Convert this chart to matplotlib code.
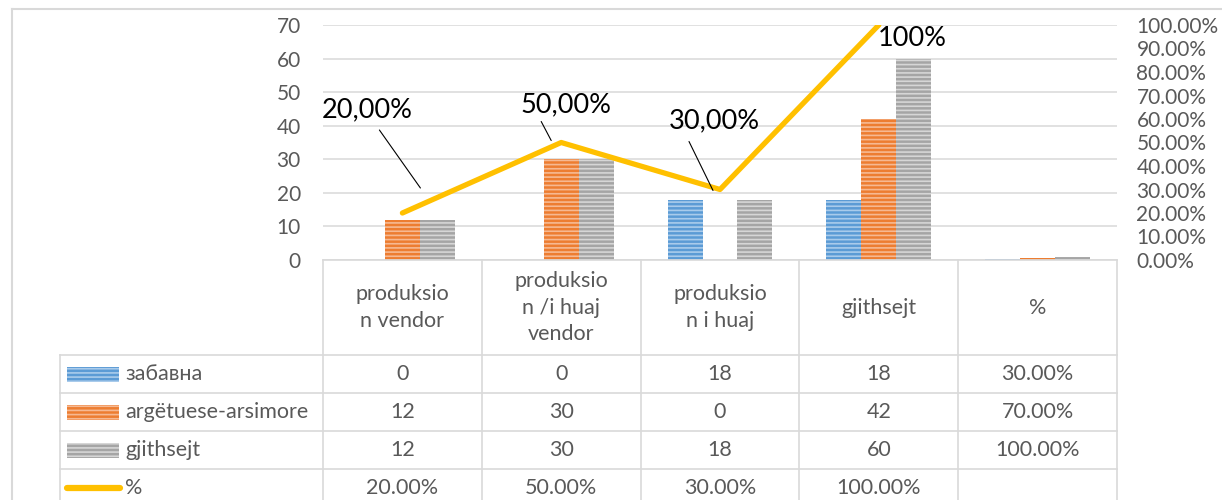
import numpy as np
import matplotlib
matplotlib.use("Agg")
import matplotlib.pyplot as plt
from matplotlib.patches import Rectangle
from matplotlib.ticker import FuncFormatter
from matplotlib.transforms import offset_copy

plt.rcParams['font.family'] = ['Lato', 'DejaVu Sans']
plt.rcParams['hatch.linewidth'] = 1.2

categories = ['produksio\nn vendor', 'produksio\nn /i huaj\nvendor',
              'produksio\nn i huaj', 'gjithsejt', '%']
series_names = ['забавна', 'argëtuese-arsimore', 'gjithsejt']
zabavna = [0, 0, 18, 18, 0.3]
argetuese = [12, 30, 0, 42, 0.7]
gjithsejt = [12, 30, 18, 60, 1.0]
pct_name = '%'
pct = [0.20, 0.50, 0.30, 1.00]
pct_labels = ['20,00%', '50,00%', '30,00%', '100%']
left_ticks = list(range(0, 80, 10))
right_ticks = [i / 10 for i in range(11)]

colors = ['#5b9bd5', '#ed7d31', '#a5a5a5']
stripes = ['#a9cbeb', '#f6b992', '#d6d6d6']
grid_c = '#d9d9d9'
text_c = '#595959'
line_c = '#ffc000'
fs = 15.5

W, H = 1222, 500
fig = plt.figure(figsize=(W / 100, H / 100), dpi=100)


def box(l, t, r, b):
    return [l / W, 1 - b / H, (r - l) / W, (b - t) / H]


ax = fig.add_axes(box(323, 25, 1117, 260))
x = np.arange(len(categories))
bw = 0.22
for k, vals in enumerate([zabavna, argetuese, gjithsejt]):
    ax.bar(x + (k - 1) * bw, vals, bw, color=colors[k], edgecolor=stripes[k],
           hatch='----', linewidth=0, zorder=2)
ax.set_xlim(-0.5, len(categories) - 0.5)
ax.set_ylim(0, 70)
ax.set_yticks(left_ticks)
ax.set_xticks([])
ax.grid(axis='y', color=grid_c, lw=1.1, zorder=0)
for sp in ax.spines.values():
    sp.set_visible(False)
ax.tick_params(axis='y', length=0, pad=16, labelsize=15, labelcolor=text_c)

ax2 = ax.twinx()
ax2.set_ylim(0, 1)
ax2.set_yticks(right_ticks)
ax2.yaxis.set_major_formatter(FuncFormatter(lambda v, p: f"{v * 100:.2f}%"))
for sp in ax2.spines.values():
    sp.set_visible(False)
ax2.tick_params(axis='y', length=0, pad=14, labelsize=15, labelcolor=text_c)
ax2.plot(x[:len(pct)], pct, color=line_c, lw=3.8, solid_capstyle='round', zorder=3)

# data labels (pixel offsets from the point) and leader lines
label_off = [(-35, 103), (5, 38), (-6, 69), (33, -13)]
leaders = [((-23, 83), (18, 25)), ((-20, 21), (-10, 2)), ((-31, 48), (-7, -1)), None]
for i, (p, lab) in enumerate(zip(pct, pct_labels)):
    dx, dy = label_off[i]
    ax2.annotate(lab, (x[i], p), xytext=(dx, dy), textcoords='offset pixels',
                 ha='center', va='center', fontsize=19.5, color='black',
                 annotation_clip=False)
    if leaders[i]:
        (sx, sy), (ex, ey) = leaders[i]
        ax2.annotate('', xy=(x[i], p),
                     xycoords=offset_copy(ax2.transData, fig=fig, x=ex, y=ey, units='dots'),
                     xytext=(x[i], p),
                     textcoords=offset_copy(ax2.transData, fig=fig, x=sx, y=sy, units='dots'),
                     arrowprops=dict(arrowstyle='-', color='black', lw=0.8,
                                     shrinkA=0, shrinkB=0),
                     annotation_clip=False)

# data table drawn in pixel space
tab = fig.add_axes([0, 0, 1, 1], zorder=5)
tab.set_xlim(0, W)
tab.set_ylim(H, 0)
tab.axis('off')
tab.patch.set_alpha(0)

edges = [ax.transData.transform((i - 0.5, 0))[0] for i in range(len(categories) + 1)]
x_left = 60
head_top, head_bot = 260, 355
row_h = 38
n_rows = 4
row_y = [head_bot + r * row_h for r in range(n_rows + 1)]

lw = 1.2
tab.plot([edges[0], edges[-1]], [head_top, head_top], color=grid_c, lw=lw)
for yy in row_y:
    tab.plot([x_left, edges[-1]], [yy, yy], color=grid_c, lw=lw)
tab.plot([x_left, x_left], [head_bot, H], color=grid_c, lw=lw)
for ex in edges:
    tab.plot([ex, ex], [head_top, H], color=grid_c, lw=lw)

# outer chart border
tab.plot([12, W], [9, 9], color=grid_c, lw=1.5)
tab.plot([12, 12], [9, H], color=grid_c, lw=1.5)

centers = [(edges[j] + edges[j + 1]) / 2 for j in range(len(categories))]
for j, cat in enumerate(categories):
    tab.text(centers[j], (head_top + head_bot) / 2, cat, ha='center', va='center',
             fontsize=fs, color=text_c, linespacing=1.4)


def fmt(v, j):
    return f"{v * 100:.2f}%" if j == len(categories) - 1 else f"{v:g}"


rows = [zabavna, argetuese, gjithsejt]
for r, vals in enumerate(rows):
    yc = row_y[r] + row_h / 2
    tab.add_patch(Rectangle((67, yc - 7.5), 52, 15, facecolor=colors[r],
                            edgecolor=stripes[r], hatch='----', lw=0))
    tab.text(125, yc, series_names[r], ha='left', va='center', fontsize=fs, color=text_c)
    for j, v in enumerate(vals):
        tab.text(centers[j], yc, fmt(v, j), ha='center', va='center',
                 fontsize=fs, color=text_c)

yc = row_y[3] + row_h / 2
tab.plot([67, 120], [yc, yc], color=line_c, lw=4.5, solid_capstyle='round')
tab.text(125, yc, pct_name, ha='left', va='center', fontsize=fs, color=text_c)
for j, p in enumerate(pct):
    tab.text(centers[j], yc, f"{p * 100:.2f}%", ha='center', va='center',
             fontsize=fs, color=text_c)

fig.savefig("out.png", dpi=100)
